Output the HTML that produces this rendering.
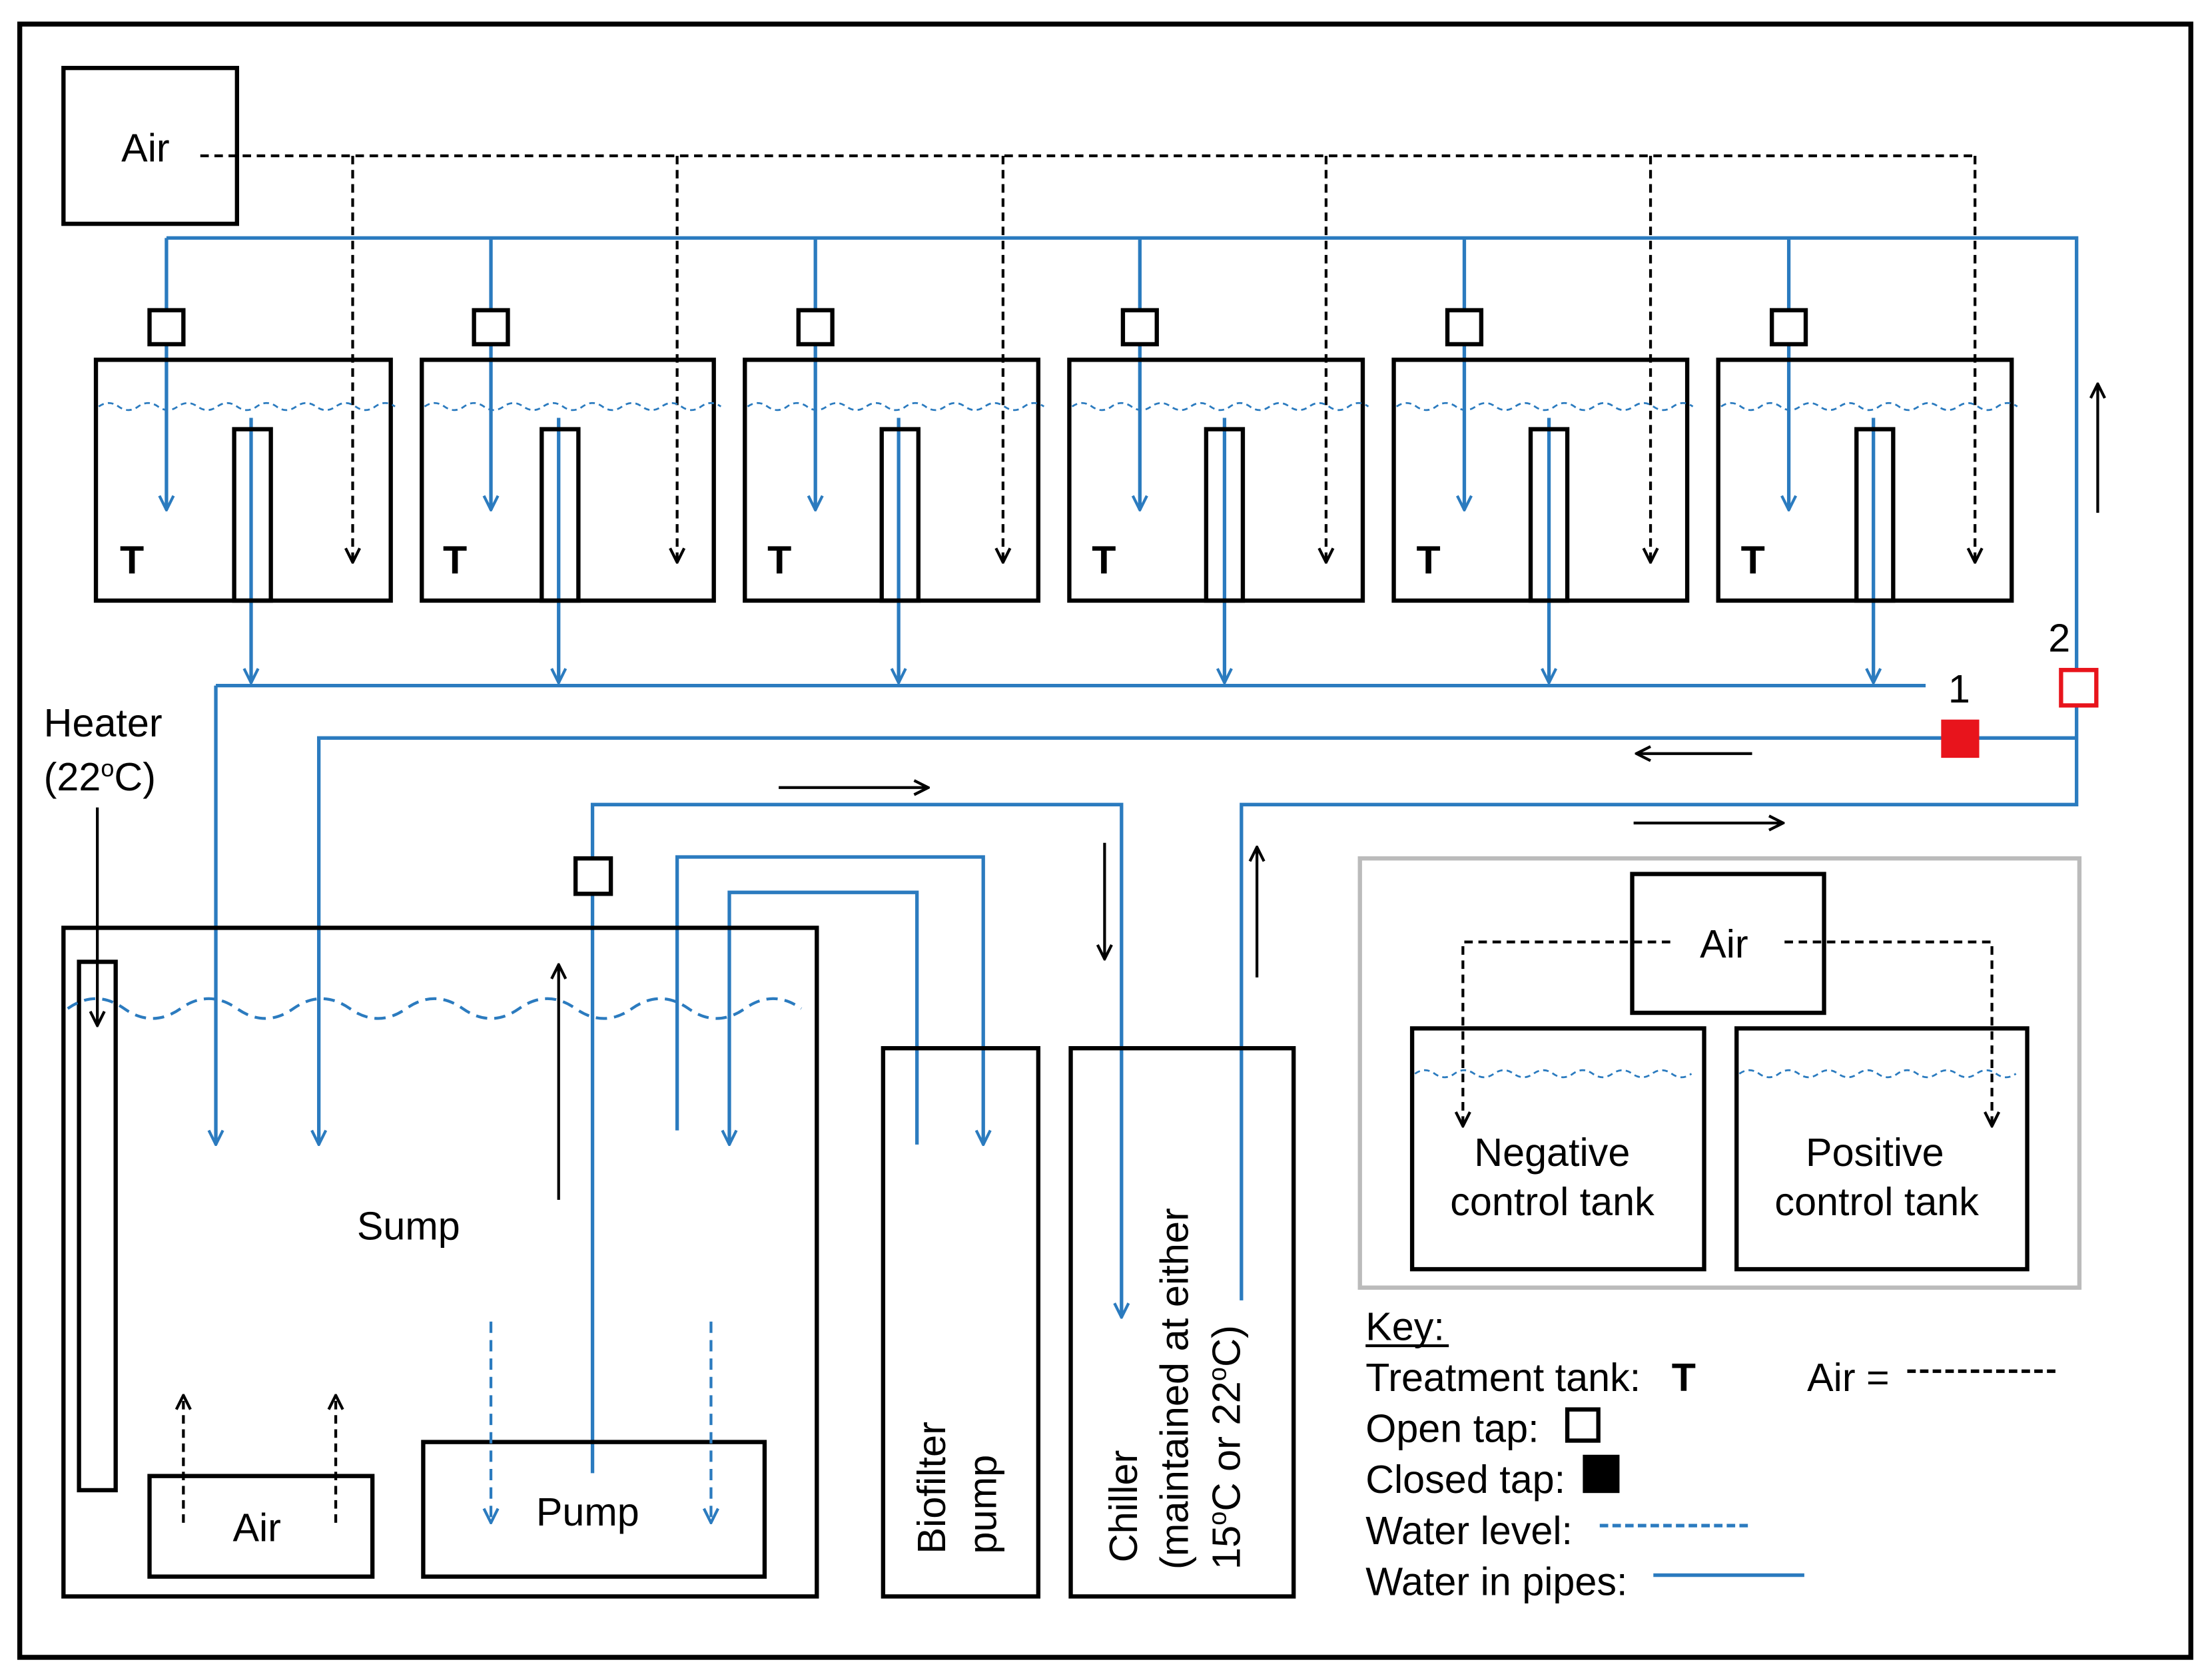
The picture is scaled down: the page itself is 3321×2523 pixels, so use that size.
<!DOCTYPE html>
<html><head><meta charset="utf-8"><style>
html,body{margin:0;padding:0;background:#fff;}
svg{display:block;}
text{font-family:"Liberation Sans",sans-serif;font-size:28px;fill:#000;}
</style></head><body>
<svg width="3321" height="2523" viewBox="0 0 1568 1186" preserveAspectRatio="none" xmlns="http://www.w3.org/2000/svg">
<defs>
<marker id="ab" viewBox="0 0 12 12" refX="11" refY="6" markerWidth="12" markerHeight="12" markerUnits="userSpaceOnUse" orient="auto"><path d="M1,1 L11,6 L1,11" fill="none" stroke="#2b7bbf" stroke-width="2"/></marker>
<marker id="ak" viewBox="0 0 12 12" refX="11" refY="6" markerWidth="12" markerHeight="12" markerUnits="userSpaceOnUse" orient="auto"><path d="M1,1 L11,6 L1,11" fill="none" stroke="#000" stroke-width="2"/></marker>
</defs>
<rect x="0" y="0" width="1568" height="1186" fill="#fff"/>
<rect x="14" y="17" width="1539" height="1153" fill="none" stroke="#000" stroke-width="3.5"/>
<rect x="45" y="48" width="123" height="110" fill="none" stroke="#000" stroke-width="3"/>
<text x="86" y="114">Air</text>
<g fill="none" stroke="#000" stroke-width="2" stroke-dasharray="6,4">
<path d="M142,110 H1400"/>
<path d="M250,110 V397" marker-end="url(#ak)"/>
<path d="M480,110 V397" marker-end="url(#ak)"/>
<path d="M711,110 V397" marker-end="url(#ak)"/>
<path d="M940,110 V397" marker-end="url(#ak)"/>
<path d="M1170,110 V397" marker-end="url(#ak)"/>
<path d="M1400,110 V397" marker-end="url(#ak)"/>
</g>
<g fill="none" stroke="#2b7bbf" stroke-width="2.5">
<path d="M118,168 H1472 V568 H880 V918"/>
<path d="M118,168 V360" marker-end="url(#ab)"/>
<path d="M348,168 V360" marker-end="url(#ab)"/>
<path d="M578,168 V360" marker-end="url(#ab)"/>
<path d="M808,168 V360" marker-end="url(#ab)"/>
<path d="M1038,168 V360" marker-end="url(#ab)"/>
<path d="M1268,168 V360" marker-end="url(#ab)"/>
<path d="M153,484 H1365"/>
<path d="M178,295 V482" marker-end="url(#ab)"/>
<path d="M396,295 V482" marker-end="url(#ab)"/>
<path d="M637,295 V482" marker-end="url(#ab)"/>
<path d="M868,295 V482" marker-end="url(#ab)"/>
<path d="M1098,295 V482" marker-end="url(#ab)"/>
<path d="M1328,295 V482" marker-end="url(#ab)"/>
<path d="M153,484 V808" marker-end="url(#ab)"/>
<path d="M1472,521 H226 V808" marker-end="url(#ab)"/>
<path d="M420,1040 V568 H795 V930" marker-end="url(#ab)"/>
<path d="M480,798 V605 H697 V808" marker-end="url(#ab)"/>
<path d="M650,808 V630 H517 V808" marker-end="url(#ab)"/>
</g>
<g fill="none" stroke="#000" stroke-width="3">
<rect x="68" y="254" width="209" height="170"/>
<rect x="299" y="254" width="207" height="170"/>
<rect x="528" y="254" width="208" height="170"/>
<rect x="758" y="254" width="208" height="170"/>
<rect x="988" y="254" width="208" height="170"/>
<rect x="1218" y="254" width="208" height="170"/>
<rect x="166" y="303" width="26" height="121"/>
<rect x="384" y="303" width="26" height="121"/>
<rect x="625" y="303" width="26" height="121"/>
<rect x="855" y="303" width="26" height="121"/>
<rect x="1085" y="303" width="26" height="121"/>
<rect x="1316" y="303" width="26" height="121"/>
</g>
<g fill="#fff" stroke="#000" stroke-width="3">
<rect x="106" y="219" width="24" height="24"/>
<rect x="336" y="219" width="24" height="24"/>
<rect x="566" y="219" width="24" height="24"/>
<rect x="796" y="219" width="24" height="24"/>
<rect x="1026" y="219" width="24" height="24"/>
<rect x="1256" y="219" width="24" height="24"/>
<rect x="408" y="606" width="25" height="25"/>
</g>
<g fill="none" stroke="#2b7bbf" stroke-width="1.3" stroke-dasharray="4,3">
<path d="M70,287 q7,-5 14,0 t14,0 t14,0 t14,0 t14,0 t14,0 t14,0 t14,0 t14,0 t14,0 t14,0 t14,0 t14,0 t14,0 t14,0"/>
<path d="M301,287 q7,-5 14,0 t14,0 t14,0 t14,0 t14,0 t14,0 t14,0 t14,0 t14,0 t14,0 t14,0 t14,0 t14,0 t14,0 t14,0"/>
<path d="M530,287 q7,-5 14,0 t14,0 t14,0 t14,0 t14,0 t14,0 t14,0 t14,0 t14,0 t14,0 t14,0 t14,0 t14,0 t14,0 t14,0"/>
<path d="M760,287 q7,-5 14,0 t14,0 t14,0 t14,0 t14,0 t14,0 t14,0 t14,0 t14,0 t14,0 t14,0 t14,0 t14,0 t14,0 t14,0"/>
<path d="M990,287 q7,-5 14,0 t14,0 t14,0 t14,0 t14,0 t14,0 t14,0 t14,0 t14,0 t14,0 t14,0 t14,0 t14,0 t14,0 t14,0"/>
<path d="M1220,287 q7,-5 14,0 t14,0 t14,0 t14,0 t14,0 t14,0 t14,0 t14,0 t14,0 t14,0 t14,0 t14,0 t14,0 t14,0 t14,0"/>
<path d="M1003,758 q7,-5 14,0 t14,0 t14,0 t14,0 t14,0 t14,0 t14,0 t14,0 t14,0 t14,0 t14,0 t14,0 t14,0 t14,0"/>
<path d="M1233,758 q7,-5 14,0 t14,0 t14,0 t14,0 t14,0 t14,0 t14,0 t14,0 t14,0 t14,0 t14,0 t14,0 t14,0 t14,0"/>
</g>
<g><text x="85" y="405" style="font-weight:bold">T</text><text x="314" y="405" style="font-weight:bold">T</text><text x="544" y="405" style="font-weight:bold">T</text><text x="774" y="405" style="font-weight:bold">T</text><text x="1004" y="405" style="font-weight:bold">T</text><text x="1234" y="405" style="font-weight:bold">T</text></g>
<rect x="1376" y="508" width="27" height="27" fill="#e8141c"/>
<rect x="1461" y="473" width="25" height="25" fill="#fff" stroke="#e8141c" stroke-width="3"/>
<text x="1381" y="496">1</text>
<text x="1452" y="460">2</text>
<g fill="none" stroke="#000" stroke-width="2">
<path d="M552,556 H658" marker-end="url(#ak)"/>
<path d="M1242,532 H1160" marker-end="url(#ak)"/>
<path d="M1158,581 H1264" marker-end="url(#ak)"/>
<path d="M1487,362 V271" marker-end="url(#ak)"/>
<path d="M783,595 V677" marker-end="url(#ak)"/>
<path d="M891,690 V598" marker-end="url(#ak)"/>
<path d="M396,847 V681" marker-end="url(#ak)"/>
<path d="M69,570 V724" marker-end="url(#ak)"/>
</g>
<g fill="none" stroke="#000" stroke-width="3">
<rect x="45" y="655" width="534" height="472"/>
<rect x="56" y="679" width="26" height="373"/>
<rect x="106" y="1042" width="158" height="71"/>
<rect x="300" y="1018" width="242" height="95"/>
<rect x="626" y="740" width="110" height="387"/>
<rect x="759" y="740" width="158" height="387"/>
</g>
<path d="M48,712 q20,-14 40,0 t40,0 t40,0 t40,0 t40,0 t40,0 t40,0 t40,0 t40,0 t40,0 t40,0 t40,0 t40,0" fill="none" stroke="#2b7bbf" stroke-width="2" stroke-dasharray="8,5"/>
<g fill="none" stroke="#000" stroke-width="2" stroke-dasharray="6,4">
<path d="M130,1075 V985" marker-end="url(#ak)"/>
<path d="M238,1075 V985" marker-end="url(#ak)"/>
</g>
<g fill="none" stroke="#2b7bbf" stroke-width="2" stroke-dasharray="8,5">
<path d="M348,933 V1075" marker-end="url(#ab)"/>
<path d="M504,933 V1075" marker-end="url(#ab)"/>
</g>
<text x="31" y="520">Heater</text>
<text x="31" y="558">(22<tspan font-size="17" dy="-10">o</tspan><tspan dy="10">C)</tspan></text>
<text x="253" y="875">Sump</text>
<text x="165" y="1088">Air</text>
<text x="380" y="1077">Pump</text>
<text transform="translate(670,1097) rotate(-90)" font-size="29">Biofilter</text>
<text transform="translate(706,1097) rotate(-90)" font-size="29">pump</text>
<text transform="translate(806,1103) rotate(-90)" font-size="29">Chiller</text>
<text transform="translate(842,1108) rotate(-90)" font-size="29">(maintained at either</text>
<text transform="translate(879,1108) rotate(-90)" font-size="29">15<tspan font-size="18" dy="-10">o</tspan><tspan dy="10">C or 22</tspan><tspan font-size="18" dy="-10">o</tspan><tspan dy="10">C)</tspan></text>
<rect x="964" y="606" width="510" height="303" fill="none" stroke="#bbb" stroke-width="3"/>
<g fill="none" stroke="#000" stroke-width="3">
<rect x="1157" y="617" width="136" height="98"/>
<rect x="1001" y="726" width="207" height="170"/>
<rect x="1231" y="726" width="206" height="170"/>
</g>
<g fill="none" stroke="#000" stroke-width="2" stroke-dasharray="6,4">
<path d="M1184,665 H1037 V795" marker-end="url(#ak)"/>
<path d="M1265,665 H1412 V795" marker-end="url(#ak)"/>
</g>
<text x="1205" y="676">Air</text>
<text x="1045" y="823">Negative</text>
<text x="1028" y="858">control tank</text>
<text x="1280" y="823">Positive</text>
<text x="1258" y="858">control tank</text>
<text x="968" y="946">Key:</text>
<line x1="968" y1="950" x2="1027" y2="950" stroke="#000" stroke-width="2"/>
<text x="968" y="982">Treatment tank:</text>
<text x="1185" y="982" style="font-weight:bold">T</text>
<text x="1281" y="982">Air =</text>
<line x1="1352" y1="968" x2="1460" y2="968" stroke="#000" stroke-width="2.5" stroke-dasharray="6,3"/>
<text x="968" y="1018">Open tap:</text>
<rect x="1111" y="995" width="22" height="22" fill="none" stroke="#000" stroke-width="3"/>
<text x="968" y="1054">Closed tap:</text>
<rect x="1122" y="1027" width="26" height="27" fill="#000"/>
<text x="968" y="1090">Water level:</text>
<line x1="1134" y1="1077" x2="1242" y2="1077" stroke="#2b7bbf" stroke-width="2.5" stroke-dasharray="6,3"/>
<text x="968" y="1126">Water in pipes:</text>
<line x1="1172" y1="1112" x2="1279" y2="1112" stroke="#2b7bbf" stroke-width="2.5"/>
</svg>
</body></html>
